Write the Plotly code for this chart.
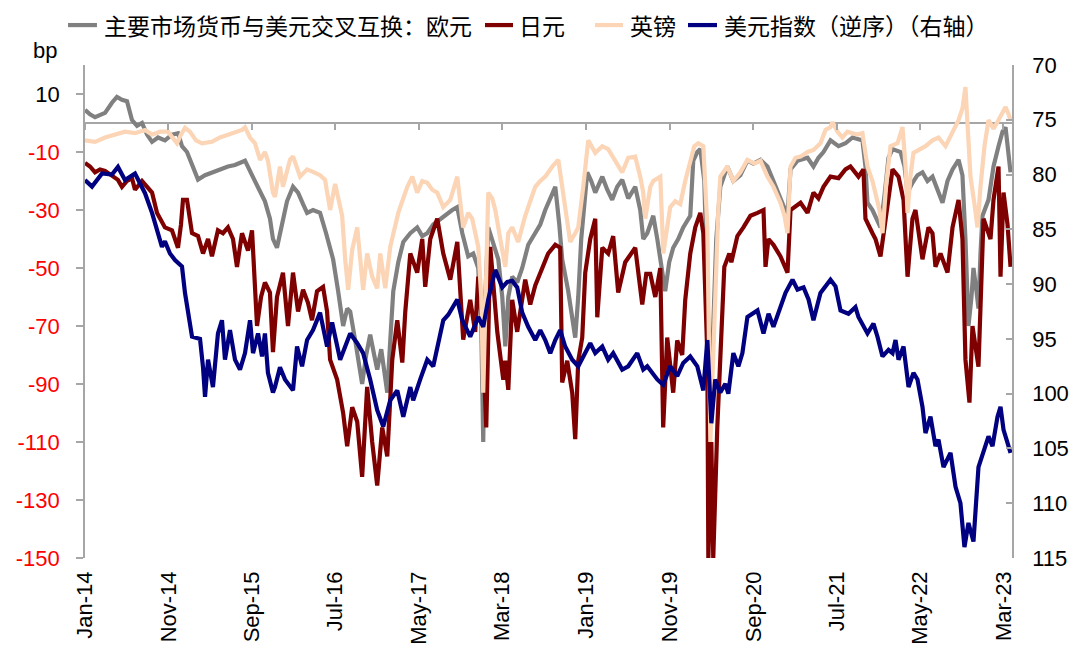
import plotly.graph_objects as go
from datetime import datetime

# ---------------- data (time as decimal years) ----------------
euro_t = [2014.000, 2014.050, 2014.100, 2014.200, 2014.269, 2014.319, 2014.369, 2014.419, 2014.469, 2014.519,
          2014.569, 2014.619, 2014.669, 2014.729, 2014.798, 2014.868, 2014.928, 2014.968, 2015.018, 2015.078,
          2015.128, 2015.198, 2015.267, 2015.347, 2015.427, 2015.497, 2015.597, 2015.667, 2015.727, 2015.796,
          2015.846, 2015.876, 2015.916, 2015.966, 2016.016, 2016.076, 2016.126, 2016.176, 2016.216, 2016.275,
          2016.345, 2016.405, 2016.475, 2016.525, 2016.575, 2016.615, 2016.645, 2016.695, 2016.764, 2016.804,
          2016.844, 2016.884, 2016.914, 2016.954, 2017.014, 2017.044, 2017.074, 2017.124, 2017.174, 2017.244,
          2017.313, 2017.363, 2017.413, 2017.473, 2017.543, 2017.613, 2017.663, 2017.713, 2017.763, 2017.822,
          2017.872, 2017.922, 2017.952, 2017.972, 2017.992, 2018.022, 2018.072, 2018.122, 2018.162, 2018.192,
          2018.222, 2018.261, 2018.311, 2018.361, 2018.421, 2018.491, 2018.541, 2018.591, 2018.641, 2018.691,
          2018.731, 2018.760, 2018.820, 2018.860, 2018.890, 2018.920, 2018.950, 2019.010, 2019.050, 2019.090,
          2019.160, 2019.210, 2019.259, 2019.309, 2019.359, 2019.419, 2019.489, 2019.539, 2019.569, 2019.609,
          2019.669, 2019.709, 2019.739, 2019.788, 2019.828, 2019.868, 2019.918, 2019.968, 2020.038, 2020.068,
          2020.108, 2020.138, 2020.178, 2020.208, 2020.238, 2020.267, 2020.297, 2020.337, 2020.407, 2020.467,
          2020.537, 2020.607, 2020.667, 2020.737, 2020.806, 2020.866, 2020.936, 2020.976, 2021.006, 2021.036,
          2021.106, 2021.206, 2021.265, 2021.315, 2021.365, 2021.435, 2021.515, 2021.585, 2021.655, 2021.705,
          2021.754, 2021.784, 2021.804, 2021.854, 2021.884, 2021.934, 2021.974, 2022.014, 2022.054, 2022.134,
          2022.174, 2022.204, 2022.253, 2022.303, 2022.353, 2022.403, 2022.453, 2022.513, 2022.553, 2022.603,
          2022.653, 2022.713, 2022.752, 2022.782, 2022.812, 2022.842, 2022.862, 2022.892, 2022.912, 2022.932,
          2022.952, 2023.012, 2023.062, 2023.112, 2023.152, 2023.182, 2023.212, 2023.232]
euro_v = [4.5, 3, 2, 3.5, 7, 9, 8, 7.5, 1, -1,
          0, -4, -6.5, -5, -6, -4, -3.5, -8, -10, -15,
          -19.5, -18, -17, -16, -15, -14.5, -13, -18, -22, -27,
          -33, -40, -43, -35, -27, -22, -24, -28, -31, -30,
          -31, -38, -47, -58, -70, -64, -65, -75, -90, -80,
          -73, -80, -85, -78, -93, -75, -58, -48, -41, -38,
          -36, -39, -38, -35, -33, -31, -30, -29, -38, -46,
          -45, -50, -70, -110, -60, -36, -42, -47, -60, -77,
          -60, -53, -55, -50, -42, -38, -35, -30, -26, -22,
          -35, -47, -58, -66, -74, -60, -40, -17, -20, -24,
          -18.5, -23, -26.5, -22, -19.6, -26, -22, -30, -40, -38,
          -32, -40, -47, -58, -48, -43, -40, -36, -32, -13,
          -10, -9, -20, -55, -95, -70, -40, -22, -15, -20,
          -18, -13, -14, -12.7, -15, -20, -26.5, -30, -32, -16,
          -13, -12, -15, -12, -10, -6, -8, -7, -5, -5.5,
          -6, -15, -27.5, -30, -32, -36, -25, -12, -9, -10,
          -15, -24, -20.6, -18, -17, -20, -18.5, -24, -27.5, -20,
          -16, -12.7, -18, -40, -70, -60, -50, -58, -64, -45,
          -32, -26.5, -15, -8, -3, -1.5, -10, -17]

yen_t = [2014.000, 2014.050, 2014.100, 2014.150, 2014.200, 2014.269, 2014.329, 2014.369, 2014.419, 2014.469,
         2014.499, 2014.569, 2014.619, 2014.669, 2014.719, 2014.798, 2014.868, 2014.928, 2014.958, 2014.978,
         2015.018, 2015.048, 2015.068, 2015.128, 2015.178, 2015.228, 2015.267, 2015.327, 2015.377, 2015.427,
         2015.477, 2015.517, 2015.567, 2015.627, 2015.667, 2015.717, 2015.757, 2015.796, 2015.846, 2015.876,
         2015.916, 2015.976, 2016.026, 2016.076, 2016.126, 2016.176, 2016.225, 2016.265, 2016.315, 2016.375,
         2016.415, 2016.445, 2016.515, 2016.575, 2016.615, 2016.665, 2016.715, 2016.764, 2016.814, 2016.864,
         2016.914, 2016.964, 2017.014, 2017.064, 2017.114, 2017.164, 2017.194, 2017.244, 2017.313, 2017.363,
         2017.393, 2017.443, 2017.513, 2017.573, 2017.643, 2017.713, 2017.772, 2017.842, 2017.892, 2017.922,
         2017.962, 2018.002, 2018.022, 2018.042, 2018.112, 2018.172, 2018.192, 2018.222, 2018.261, 2018.311,
         2018.391, 2018.441, 2018.491, 2018.560, 2018.620, 2018.691, 2018.740, 2018.760, 2018.810, 2018.860,
         2018.890, 2018.920, 2018.960, 2018.990, 2019.040, 2019.090, 2019.110, 2019.160, 2019.219, 2019.269,
         2019.319, 2019.389, 2019.489, 2019.559, 2019.599, 2019.639, 2019.689, 2019.739, 2019.768, 2019.808,
         2019.868, 2019.908, 2019.958, 2019.988, 2020.038, 2020.088, 2020.138, 2020.168, 2020.208, 2020.218,
         2020.248, 2020.267, 2020.297, 2020.307, 2020.377, 2020.427, 2020.447, 2020.507, 2020.567, 2020.637,
         2020.707, 2020.767, 2020.787, 2020.816, 2020.866, 2020.936, 2021.006, 2021.036, 2021.136, 2021.206,
         2021.265, 2021.315, 2021.365, 2021.435, 2021.515, 2021.584, 2021.634, 2021.714, 2021.764, 2021.784,
         2021.854, 2021.884, 2021.934, 2021.984, 2022.054, 2022.114, 2022.164, 2022.204, 2022.253, 2022.283,
         2022.353, 2022.413, 2022.453, 2022.483, 2022.533, 2022.603, 2022.653, 2022.713, 2022.752, 2022.782,
         2022.822, 2022.852, 2022.882, 2022.912, 2022.962, 2023.032, 2023.062, 2023.112, 2023.132, 2023.162,
         2023.202, 2023.232]
yen_v = [-13.8, -15, -17, -16, -16.5, -18, -19.6, -22, -20, -19,
         -23, -20, -22, -24, -31, -36, -37, -43, -35, -26.5,
         -26.5, -33, -38, -39, -45, -40, -46, -37, -38, -36,
         -40, -49.6, -38, -44, -37, -70, -60, -55, -58.5, -79,
         -60, -51.6, -70, -51.6, -65, -57.5, -62, -68, -58, -56.5,
         -65, -81.6, -88.5, -100, -111.5, -98, -103, -122, -91, -110,
         -125, -105, -115, -81.6, -68, -82.6, -65, -45, -51.6, -40,
         -56.5, -40, -33, -45, -54, -41, -74.7, -61, -72, -53,
         -70, -105, -70, -42.7, -72, -88.5, -82, -92, -61, -72,
         -54, -62.6, -56, -49.6, -45, -42, -43, -89.5, -82, -93,
         -109, -82, -74, -51.6, -40, -33, -67, -43, -45, -39,
         -58.5, -48, -43, -62.6, -52, -52, -60, -50, -105, -74,
         -93, -75, -80, -61, -45, -36, -31, -38, -80, -150,
         -110, -150, -120, -105, -49.6, -45, -48, -39, -36, -32,
         -31, -30, -49.6, -40, -42, -46, -51.6, -30, -27.5, -31,
         -24, -26, -22, -18.5, -19, -16, -15, -18.5, -16, -33,
         -38, -40, -46, -33, -16, -18.5, -26.5, -53, -33, -30,
         -47, -36, -38, -49.6, -45, -51.6, -36, -26.5, -40, -81.6,
         -96.4, -70, -76, -84, -33, -40, -26.5, -15, -53, -24,
         -35, -49.6]

gbp_t = [2014.000, 2014.100, 2014.200, 2014.299, 2014.399, 2014.499, 2014.599, 2014.669, 2014.749, 2014.828,
         2014.878, 2014.918, 2014.958, 2014.998, 2015.048, 2015.108, 2015.168, 2015.267, 2015.347, 2015.427,
         2015.497, 2015.567, 2015.597, 2015.647, 2015.697, 2015.747, 2015.796, 2015.826, 2015.876, 2015.896,
         2015.946, 2015.976, 2016.046, 2016.076, 2016.146, 2016.216, 2016.285, 2016.345, 2016.395, 2016.445,
         2016.495, 2016.565, 2016.595, 2016.625, 2016.665, 2016.715, 2016.745, 2016.774, 2016.814, 2016.864,
         2016.914, 2016.944, 2016.994, 2017.044, 2017.124, 2017.214, 2017.264, 2017.313, 2017.363, 2017.413,
         2017.463, 2017.513, 2017.573, 2017.643, 2017.713, 2017.772, 2017.822, 2017.862, 2017.922, 2017.952,
         2017.972, 2018.002, 2018.022, 2018.062, 2018.092, 2018.142, 2018.192, 2018.222, 2018.261, 2018.321,
         2018.391, 2018.441, 2018.491, 2018.541, 2018.591, 2018.661, 2018.721, 2018.760, 2018.790, 2018.840,
         2018.890, 2018.920, 2018.970, 2019.020, 2019.090, 2019.160, 2019.219, 2019.289, 2019.359, 2019.419,
         2019.489, 2019.539, 2019.569, 2019.589, 2019.639, 2019.669, 2019.739, 2019.769, 2019.808, 2019.838,
         2019.888, 2019.938, 2019.988, 2020.038, 2020.078, 2020.118, 2020.168, 2020.208, 2020.238, 2020.267,
         2020.287, 2020.317, 2020.337, 2020.407, 2020.467, 2020.537, 2020.607, 2020.677, 2020.737, 2020.806,
         2020.866, 2020.936, 2020.976, 2021.006, 2021.036, 2021.086, 2021.136, 2021.206, 2021.265, 2021.335,
         2021.385, 2021.435, 2021.455, 2021.505, 2021.554, 2021.604, 2021.654, 2021.705, 2021.754, 2021.784,
         2021.804, 2021.854, 2021.884, 2021.924, 2021.954, 2021.994, 2022.034, 2022.104, 2022.154, 2022.184,
         2022.204, 2022.234, 2022.263, 2022.333, 2022.383, 2022.453, 2022.513, 2022.583, 2022.653, 2022.713,
         2022.752, 2022.782, 2022.802, 2022.832, 2022.872, 2022.902, 2022.932, 2022.972, 2023.012, 2023.062,
         2023.112, 2023.152, 2023.182, 2023.212, 2023.232]
gbp_v = [-6, -6.5, -5, -4, -3, -3.5, -2.4, -4, -3, -3,
         -5, -7, -4, -1.7, -3, -6, -7, -6.5, -5, -4,
         -3, -2.4, -1.5, -5, -7, -12.7, -10, -13, -24, -25.5,
         -15, -22, -12.7, -11.5, -18.5, -16, -17, -18, -19.6, -30,
         -21, -32, -47, -57.5, -43.7, -36, -47, -57.5, -45, -53,
         -57, -45, -57, -42.7, -31, -22, -18.5, -24, -20, -20.6,
         -23, -24, -29, -26.5, -18.5, -36, -31, -33, -42.7, -60,
         -93, -45, -24, -26, -30, -40, -49.6, -38, -36, -41,
         -32, -27, -22, -20, -18.5, -15, -12.7, -22, -30, -41,
         -38, -36, -22, -6, -10.3, -8, -9, -12.7, -17, -12,
         -11.6, -18.5, -24, -33, -22, -20, -18.5, -45, -35, -29,
         -27, -28, -20, -12.7, -8, -7, -8, -36, -110, -80,
         -59, -30, -18.5, -15, -20, -17, -12.7, -14, -13, -18.5,
         -22, -27.5, -32, -38, -15, -12, -11.6, -10, -9.3, -7,
         -2.4, -1.4, 0.3, -3, -5, -3, -3.5, -4, -3.5, -10,
         -15, -20, -24, -30, -38, -20, -8, -7, -1.4, -15,
         -31, -18, -10.3, -9, -8, -6, -5, -8, -3, 1,
         5, 12.4, 0, -18.5, -28, -36, -22, -8, 1, -2,
         1, 4, 5.5, 3, 1]

dxy_t = [2014.000, 2014.070, 2014.170, 2014.269, 2014.329, 2014.399, 2014.499, 2014.569, 2014.599, 2014.669,
         2014.729, 2014.768, 2014.798, 2014.848, 2014.898, 2014.968, 2014.998, 2015.028, 2015.068, 2015.148,
         2015.178, 2015.198, 2015.228, 2015.277, 2015.327, 2015.367, 2015.397, 2015.447, 2015.497, 2015.547,
         2015.597, 2015.647, 2015.677, 2015.727, 2015.767, 2015.796, 2015.826, 2015.876, 2015.896, 2015.946,
         2015.996, 2016.076, 2016.116, 2016.166, 2016.216, 2016.275, 2016.345, 2016.415, 2016.465, 2016.545,
         2016.615, 2016.645, 2016.715, 2016.774, 2016.844, 2016.914, 2016.974, 2017.044, 2017.114, 2017.174,
         2017.244, 2017.273, 2017.343, 2017.413, 2017.473, 2017.513, 2017.573, 2017.623, 2017.713, 2017.763,
         2017.842, 2017.922, 2017.972, 2018.022, 2018.092, 2018.162, 2018.212, 2018.261, 2018.311, 2018.361,
         2018.421, 2018.491, 2018.541, 2018.591, 2018.641, 2018.691, 2018.740, 2018.790, 2018.860, 2018.920,
         2018.990, 2019.040, 2019.090, 2019.160, 2019.219, 2019.269, 2019.359, 2019.419, 2019.509, 2019.569,
         2019.609, 2019.709, 2019.768, 2019.838, 2019.908, 2019.968, 2020.038, 2020.108, 2020.168, 2020.208,
         2020.248, 2020.287, 2020.337, 2020.387, 2020.417, 2020.467, 2020.517, 2020.557, 2020.607, 2020.667,
         2020.707, 2020.767, 2020.817, 2020.866, 2020.936, 2020.986, 2021.056, 2021.106, 2021.166, 2021.216,
         2021.265, 2021.335, 2021.435, 2021.485, 2021.535, 2021.614, 2021.684, 2021.714, 2021.804, 2021.864,
         2021.904, 2021.954, 2022.014, 2022.054, 2022.084, 2022.114, 2022.164, 2022.214, 2022.263, 2022.303,
         2022.353, 2022.383, 2022.433, 2022.483, 2022.513, 2022.563, 2022.633, 2022.683, 2022.732, 2022.772,
         2022.812, 2022.862, 2022.912, 2022.952, 2023.012, 2023.052, 2023.102, 2023.132, 2023.162, 2023.202,
         2023.232]
dxy_v = [80.5, 81.1, 79.9, 80, 79.3, 80.5, 79.9, 81.1, 81.7, 83.5,
         85.3, 86.6, 86.1, 87.2, 87.8, 88.4, 90.8, 92.6, 94.8, 95,
         97.6, 100.3, 96.9, 99.4, 94.5, 93.3, 96.9, 94.2, 96.9, 97.8,
         96.3, 93.3, 96.3, 94.5, 96.6, 94.5, 98.1, 99.9, 99.4, 97.6,
         98.7, 99.7, 95.7, 97.5, 95.1, 94.2, 92.6, 95.7, 93.5, 96.9,
         95.1, 94.5, 95.4, 96.3, 98.7, 101.5, 103, 100.6, 99.7, 102.1,
         99.4, 100.6, 98.7, 96.9, 97.5, 95.7, 93.3, 92.8, 91.4, 93.3,
         94.8, 93, 93.9, 91.4, 88.7, 90.3, 89.8, 89.7, 90.3, 92.6,
         93.9, 95.1, 94.2, 95.1, 96.3, 95.1, 94.2, 95.7, 96.9, 97.5,
         96.3, 95.4, 96.3, 95.7, 96.9, 96.3, 97.8, 97.5, 96.3, 97.8,
         97.5, 98.7, 99.2, 97.5, 98.4, 97.2, 96.6, 97.5, 99.7, 95.1,
         102.7, 98.7, 99.9, 99.1, 100, 96.3, 97.5, 96.3, 93, 92.7,
         92.4, 94.5, 92.7, 93.9, 92.1, 90.8, 89.6, 90.5, 90.3, 91.4,
         93.3, 90.8, 89.6, 90.2, 92.4, 92.7, 92.1, 93, 94.5, 93.6,
         94.8, 96.6, 96, 96.3, 95.1, 96.9, 95.7, 99.4, 98.1, 98.7,
         101.2, 103.6, 102.1, 104.8, 104.2, 106.7, 105.4, 108.5, 110, 114,
         111.8, 113.5, 106.7, 105.5, 103.9, 104.8, 102.1, 101.2, 103.3, 104.5,
         105.4]

series_names = ["主要市场货币与美元交叉互换：欧元", "日元", "英镑", "美元指数（逆序）（右轴）"]
series_colors = ["#808080", "#7F0000", "#FBD5B5", "#000080"]
left_ticks = [-150, -130, -110, -90, -70, -50, -30, -10, 10]
right_ticks = [70, 75, 80, 85, 90, 95, 100, 105, 110, 115]


def to_date(d):
    y = int(d)
    start = datetime(y, 1, 1)
    end = datetime(y + 1, 1, 1)
    return start + (end - start) * (d - y)


FONT = "Liberation Sans, Arial, Noto Sans CJK SC, sans-serif"
CJK = "Noto Sans CJK SC, Liberation Sans, sans-serif"
AXIS_GRAY = "#A6A6A6"

fig = go.Figure()
specs = [(euro_t, euro_v, "y"), (yen_t, yen_v, "y"), (gbp_t, gbp_v, "y"), (dxy_t, dxy_v, "y2")]
for (t, v, ax), nm, c in zip(specs, series_names, series_colors):
    fig.add_trace(go.Scatter(
        x=[to_date(d) for d in t], y=v, name=nm, mode="lines",
        line=dict(color=c, width=4.2), yaxis=ax, hoverinfo="skip", showlegend=False))

# invisible helper trace so that the tick-mark axis on the zero line is drawn
fig.add_trace(go.Scatter(x=[to_date(euro_t[0]), to_date(euro_t[-1])], y=[0, 0],
                         xaxis="x2", yaxis="y", mode="lines",
                         line=dict(width=0, color="rgba(0,0,0,0)"),
                         showlegend=False, hoverinfo="skip"))

left_text = [str(v) if v >= 0 else '<span style="color:#FF0000">%d</span>' % v for v in left_ticks]

# legend drawn as a row of line samples + labels above the plot (paper coordinates)
legend_line_x = [(-0.0183, 0.0129), (0.4315, 0.4617), (0.5502, 0.5804), (0.6505, 0.6818)]
legend_text_x = [0.0178, 0.4660, 0.5858, 0.6872]
legend_y = 1.081
shapes = []
annotations = []
for (x0, x1), tx, nm, c in zip(legend_line_x, legend_text_x, series_names, series_colors):
    shapes.append(dict(type="line", xref="paper", yref="paper", x0=x0, x1=x1,
                       y0=legend_y, y1=legend_y, line=dict(color=c, width=4.2)))
    annotations.append(dict(text=nm, x=tx, y=legend_y, xref="paper", yref="paper",
                            xanchor="left", yanchor="middle", showarrow=False,
                            font=dict(family=CJK, size=23, color="black")))
annotations.append(dict(text="bp", x=-0.043, y=1.03, xref="paper", yref="paper",
                        xanchor="center", yanchor="middle", showarrow=False,
                        font=dict(size=22, color="black")))

# the page body has an 8px margin, so the figure is drawn 8px smaller and offset
fig.update_layout(
    width=1072, height=655,
    margin=dict(l=77, r=68, t=57, b=105, autoexpand=False),
    paper_bgcolor="white", plot_bgcolor="white",
    font=dict(family=FONT, size=22, color="black"),
    showlegend=False,
    xaxis=dict(type="date", range=[datetime(2014, 1, 1), datetime(2023, 4, 1)],
               tickformat="%b-%y", dtick="M10", tick0="2014-01-01", tickangle=-90,
               showgrid=False, showline=False, ticks="", zeroline=False, automargin=False,
               tickfont=dict(size=22, color="black"), ticklabelstandoff=8),
    xaxis2=dict(type="date", matches="x", overlaying="x", anchor="free", position=150 / 170,
                dtick="M10", tick0="2014-01-01", ticks="outside", ticklen=6,
                tickcolor=AXIS_GRAY, tickwidth=1.5, showticklabels=False, automargin=False,
                showgrid=False, showline=False, zeroline=False),
    yaxis=dict(range=[-150, 20], tickvals=left_ticks, ticktext=left_text, automargin=False,
               showgrid=False, showline=True, linecolor=AXIS_GRAY, linewidth=1.5,
               ticks="outside", ticklen=7, tickcolor=AXIS_GRAY, tickwidth=1.5,
               zeroline=True, zerolinecolor=AXIS_GRAY, zerolinewidth=1.5,
               tickfont=dict(size=22, color="black"), ticklabelstandoff=12),
    yaxis2=dict(range=[115, 70], tickvals=right_ticks, overlaying="y", side="right",
                showgrid=False, showline=True, linecolor=AXIS_GRAY, linewidth=1.5,
                ticks="inside", ticklen=6, tickcolor=AXIS_GRAY, tickwidth=1.5, automargin=False,
                zeroline=False, tickfont=dict(size=22, color="black"), ticklabelstandoff=14),
    shapes=shapes,
    annotations=annotations,
)

fig.write_html("out.html")
